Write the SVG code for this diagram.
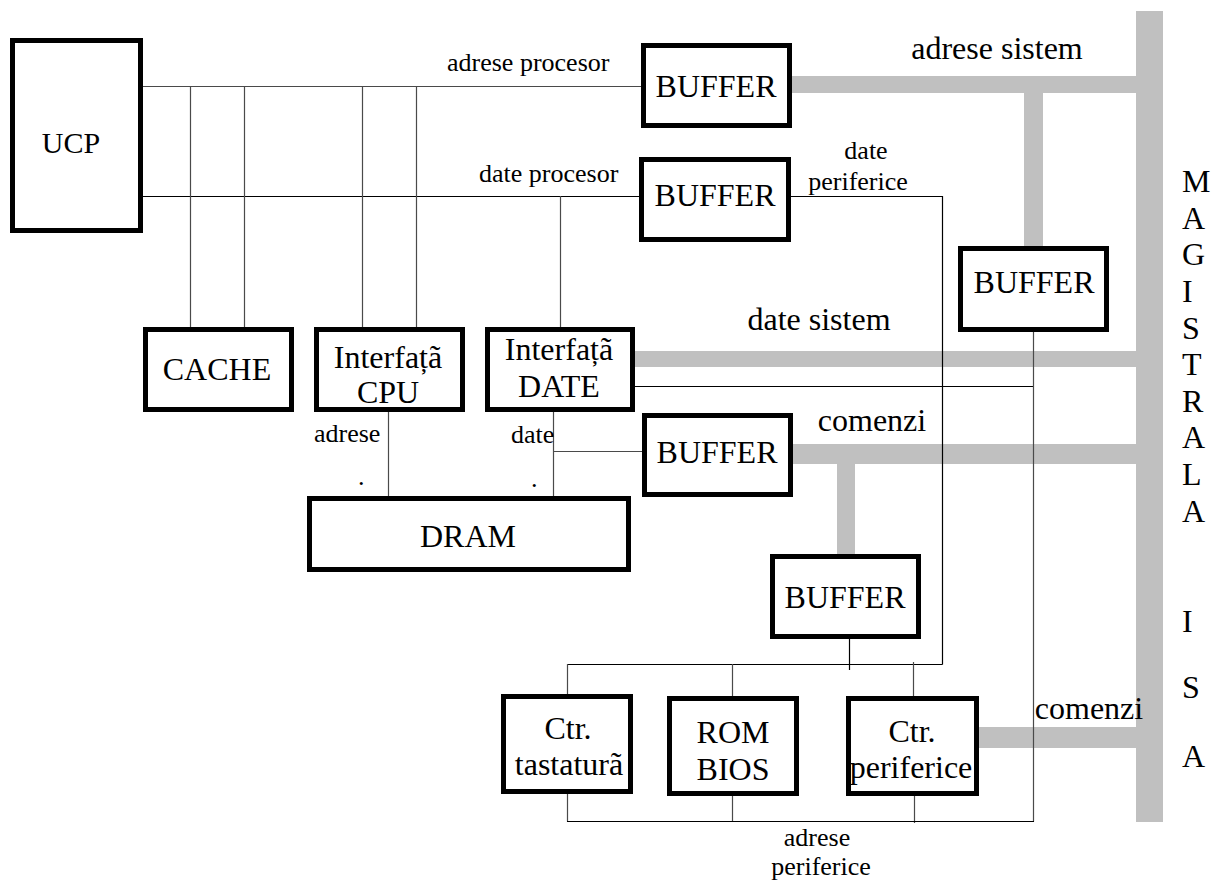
<svg xmlns="http://www.w3.org/2000/svg" width="1213" height="881" viewBox="0 0 1213 881" font-family="'Liberation Serif', 'DejaVu Serif', serif">
  <style>
    .box { fill: #ffffff; stroke: #000000; stroke-width: 5; }
    .bus { fill: #c0c0c0; stroke: none; }
    .wire { fill: none; stroke: #4a4a4a; stroke-width: 1.2; }
    .wire-dk { fill: none; stroke: #000000; stroke-width: 1.2; }
    text { font-family: 'Liberation Serif', 'DejaVu Serif', serif; fill: #000000; }
    .lbl { font-size: 32px; text-anchor: middle; }
    .sm { font-size: 26px; }
    .smc { font-size: 26px; text-anchor: middle; }
    .isa { font-size: 32px; }
  </style>
  <rect width="1213" height="881" fill="#ffffff"/>

  <!-- ISA system bus and its gray branches -->
  <g id="isa-bus">
    <rect class="bus" x="1136" y="11" width="27" height="811"/>
    <rect class="bus" x="792" y="76" width="344" height="17"/>
    <rect class="bus" x="1024" y="93" width="19" height="155"/>
    <rect class="bus" x="635" y="351" width="501" height="16"/>
    <rect class="bus" x="793" y="444" width="343" height="20"/>
    <rect class="bus" x="837" y="464" width="18" height="92"/>
    <rect class="bus" x="979" y="727" width="157" height="21"/>
  </g>

  <!-- thin signal wires -->
  <g id="connectors">
    <path class="wire" d="M143 86.5 H641"/>
    <path class="wire-dk" d="M143 196.5 H639"/>
    <path class="wire" d="M190.5 86 V327 M244.5 86 V327 M362.5 86 V327 M416.5 86 V327"/>
    <path class="wire" d="M560.5 196 V327"/>
    <path class="wire-dk" d="M791 196.5 H942.5 V664.5"/>
    <path class="wire-dk" d="M635 386.5 H1034"/>
    <path class="wire" d="M1033.5 332 V821.5"/>
    <path class="wire" d="M388.5 412 V496"/>
    <path class="wire" d="M553.5 412 V496"/>
    <path class="wire" d="M553 451.5 H642"/>
    <path class="wire-dk" d="M849.5 639 V670"/>
    <path class="wire-dk" d="M567 664.5 H942.5"/>
    <path class="wire" d="M567.5 664 V694 M732.5 664 V696 M913.5 662 V696"/>
    <path class="wire" d="M567.5 794 V821.5 M732.5 796 V821.5 M914.5 796 V823"/>
    <path class="wire-dk" d="M567 821.5 H1034"/>
  </g>

  <!-- bus labels -->
  <g id="labels">
    <text class="sm" x="447" y="71">adrese procesor</text>
    <text class="sm" x="479" y="182">date procesor</text>
    <text class="smc" x="866" y="159">date</text>
    <text class="smc" x="858" y="190">periferice</text>
    <text class="lbl" x="997" y="59">adrese sistem</text>
    <text class="lbl" x="819" y="330">date sistem</text>
    <text class="lbl" x="872" y="431">comenzi</text>
    <text class="lbl" x="1089" y="719">comenzi</text>
    <text class="sm" x="314" y="442">adrese</text>
    <text class="sm" x="511" y="443">date</text>
    <text class="sm" x="358" y="485">.</text>
    <text class="sm" x="531" y="487">.</text>
    <text class="smc" x="817" y="846">adrese</text>
    <text class="smc" x="821" y="875">periferice</text>
  </g>

  <!-- vertical bus caption -->
  <g id="isa-caption" class="isa">
    <text x="1182" y="192">M</text>
    <text x="1182" y="229">A</text>
    <text x="1182" y="265">G</text>
    <text x="1182" y="302">I</text>
    <text x="1182" y="339">S</text>
    <text x="1182" y="375">T</text>
    <text x="1182" y="412">R</text>
    <text x="1182" y="448">A</text>
    <text x="1182" y="485">L</text>
    <text x="1182" y="522">A</text>
    <text x="1182" y="632">I</text>
    <text x="1182" y="698">S</text>
    <text x="1182" y="767">A</text>
  </g>

  <g id="ucp">
    <rect class="box" x="12.5" y="40.5" width="128" height="190"/>
    <text class="lbl" x="71" y="153" style="font-size:30px">UCP</text>
  </g>
  <g id="buffer-adrese">
    <rect class="box" x="643.5" y="45.5" width="146" height="80"/>
    <text class="lbl" x="716" y="97">BUFFER</text>
  </g>
  <g id="buffer-date">
    <rect class="box" x="641.5" y="159.5" width="147" height="80"/>
    <text class="lbl" x="715" y="206">BUFFER</text>
  </g>
  <g id="buffer-sistem">
    <rect class="box" x="960.5" y="248.5" width="146" height="81"/>
    <text class="lbl" x="1034" y="293">BUFFER</text>
  </g>
  <g id="cache">
    <rect class="box" x="145.5" y="329.5" width="146" height="80"/>
    <text class="lbl" x="217" y="380">CACHE</text>
  </g>
  <g id="interfata-cpu">
    <rect class="box" x="316.5" y="329.5" width="146" height="80"/>
    <text class="lbl" x="388" y="368">Interfațã</text>
    <text class="lbl" x="388" y="403">CPU</text>
  </g>
  <g id="interfata-date">
    <rect class="box" x="487.5" y="329.5" width="145" height="80"/>
    <text class="lbl" x="559" y="360">Interfațã</text>
    <text class="lbl" x="559" y="397">DATE</text>
  </g>
  <g id="buffer-comenzi">
    <rect class="box" x="644.5" y="415.5" width="146" height="79"/>
    <text class="lbl" x="717" y="463">BUFFER</text>
  </g>
  <g id="dram">
    <rect class="box" x="309.5" y="498.5" width="319" height="71"/>
    <text class="lbl" x="468" y="547">DRAM</text>
  </g>
  <g id="buffer-periferice">
    <rect class="box" x="772.5" y="556.5" width="146" height="80"/>
    <text class="lbl" x="845" y="608">BUFFER</text>
  </g>
  <g id="ctr-tastatura">
    <rect class="box" x="503.5" y="696.5" width="127" height="95"/>
    <text class="lbl" x="568" y="739">Ctr.</text>
    <text class="lbl" x="569" y="775">tastaturã</text>
  </g>
  <g id="rom-bios">
    <rect class="box" x="669.5" y="698.5" width="127" height="95"/>
    <text class="lbl" x="733" y="743">ROM</text>
    <text class="lbl" x="733" y="780">BIOS</text>
  </g>
  <g id="ctr-periferice">
    <rect class="box" x="848.5" y="698.5" width="128" height="95"/>
    <text class="lbl" x="912" y="742">Ctr.</text>
    <text class="lbl" x="911" y="778">periferice</text>
  </g>
</svg>
